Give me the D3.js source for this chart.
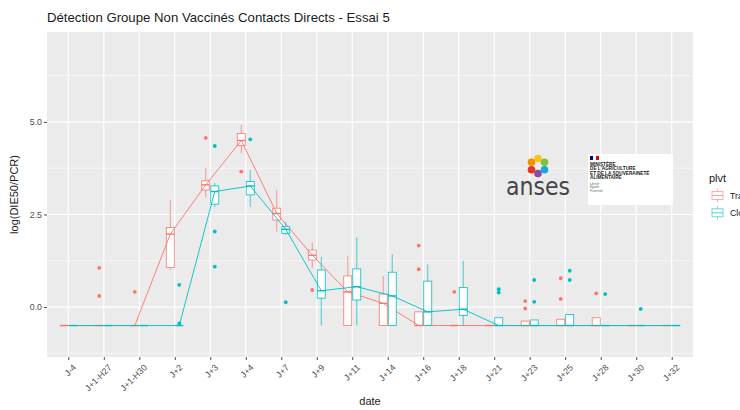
<!DOCTYPE html>
<html lang="fr">
  <head>
    <meta charset="utf-8">
    <title>Détection Groupe Non Vaccinés Contacts Directs - Essai 5</title>
    <script src="https://cdn.jsdelivr.net/npm/d3@7"></script>
  </head>
  <style>
    body, html {
      margin: 0;
      padding: 0;
      background: #fff;
    }
    svg {
      font-family: "Liberation Sans", Arial, sans-serif;
      display: block;
    }
  </style>
  <body>
    <svg width="740" height="410"></svg>
  </body>
  <script>

    const dates = ["J-4", "J+1-H27", "J+1-H30", "J+2", "J+3", "J+4", "J+7", "J+9", "J+11",
      "J+14", "J+16", "J+18", "J+21", "J+23", "J+25", "J+28", "J+30", "J+32"]

    // Trachéal : moustache basse, Q1, médiane, Q3, moustache haute
    const tLow  = [-0.5, -0.5, -0.5, 1.0, 2.95, 4.16, 2.04, 1.05, -0.5, -0.5, -0.5, -0.5, -0.5, -0.5, -0.5, -0.5, -0.5, -0.5]
    const tQ1   = [-0.5, -0.5, -0.5, 1.07, 3.16, 4.36, 2.35, 1.27, -0.5, -0.5, -0.5, -0.5, -0.5, -0.5, -0.5, -0.5, -0.5, -0.5]
    const tMed  = [-0.5, -0.5, -0.5, 1.97, 3.3, 4.5, 2.53, 1.4, 0.41, 0.1, -0.5, -0.5, -0.5, -0.5, -0.5, -0.5, -0.5, -0.5]
    const tQ3   = [-0.5, -0.5, -0.5, 2.15, 3.41, 4.69, 2.67, 1.54, 0.84, 0.35, -0.13, -0.5, -0.5, -0.38, -0.33, -0.29, -0.5, -0.5]
    const tHigh = [-0.5, -0.5, -0.5, 2.89, 3.76, 4.92, 3.16, 1.74, 1.38, 0.84, -0.13, -0.5, -0.5, -0.38, -0.33, -0.29, -0.5, -0.5]
    const tOut  = [["J+1-H27", 1.06], ["J+1-H27", 0.3], ["J+1-H30", 0.41], ["J+3", 4.57], ["J+4", 3.66],
      ["J+9", 0.46], ["J+16", 1.66], ["J+16", 1.02], ["J+18", 0.41], ["J+23", 0.16], ["J+23", -0.04],
      ["J+25", 0.78], ["J+25", 0.22], ["J+28", 0.37]]

    // Cloacal
    const cLow  = [-0.5, -0.5, -0.5, -0.5, 2.7, 2.71, 1.95, -0.5, -0.5, -0.5, -0.5, -0.5, -0.5, -0.5, -0.5, -0.5, -0.5, -0.5]
    const cQ1   = [-0.5, -0.5, -0.5, -0.5, 2.78, 3.03, 1.99, 0.24, 0.19, -0.5, -0.5, -0.23, -0.5, -0.5, -0.5, -0.5, -0.5, -0.5]
    const cMed  = [-0.5, -0.5, -0.5, -0.5, 3.12, 3.27, 2.1, 0.44, 0.55, 0.3, -0.13, -0.06, -0.5, -0.5, -0.5, -0.5, -0.5, -0.5]
    const cQ3   = [-0.5, -0.5, -0.5, -0.5, 3.27, 3.39, 2.17, 1.0, 1.03, 0.94, 0.7, 0.53, -0.29, -0.35, -0.2, -0.5, -0.5, -0.5]
    const cHigh = [-0.5, -0.5, -0.5, -0.5, 3.35, 3.7, 2.3, 1.36, 1.88, 1.43, 1.15, 1.25, -0.29, -0.35, -0.2, -0.5, -0.5, -0.5]
    const cOut  = [["J+2", 0.6], ["J+2", -0.44], ["J+3", 4.35], ["J+3", 2.04], ["J+3", 1.09], ["J+4", 4.53],
      ["J+7", 0.13], ["J+21", 0.48], ["J+21", 0.39], ["J+23", 0.73], ["J+23", 0.14], ["J+25", 0.98],
      ["J+25", 0.73], ["J+28", 0.35], ["J+30", -0.05]]

    const groups = ["Trachéal", "Cloacal"]
    const yTicks = [0, 2.5, 5]
    const yMinor = [-1.25, 1.25, 3.75, 6.25]

    const colors = { "Trachéal": "#F8766D", "Cloacal": "#00BFC4" }

    const svg = d3.select('svg')
    const pLeft = 47, pRight = 693, pTop = 32, pBottom = 357
    const dodge = 4.5
    const boxW = 8

    const x = d3.scalePoint().domain(dates).range([pLeft, pRight]).padding(0.6)
    const y = d3.scaleLinear().domain([-1.35, 7.43]).range([pBottom, pTop])

    // titre
    svg.append('text')
      .attr('x', pLeft)
      .attr('y', 22)
      .attr('font-size', 13.2)
      .attr('fill', '#1a1a1a')
      .text('Détection Groupe Non Vaccinés Contacts Directs - Essai 5')

    // panneau + grille
    svg.append('rect')
      .attr('x', pLeft).attr('y', pTop)
      .attr('width', pRight - pLeft).attr('height', pBottom - pTop)
      .attr('fill', '#EBEBEB')

    svg.append('g').selectAll('line')
      .data(yMinor.filter(d => y(d) > pTop && y(d) < pBottom))
      .join('line')
      .attr('x1', pLeft).attr('x2', pRight)
      .attr('y1', d => y(d)).attr('y2', d => y(d))
      .attr('stroke', '#fff').attr('stroke-width', 0.6)

    svg.append('g').selectAll('line')
      .data(yTicks)
      .join('line')
      .attr('x1', pLeft).attr('x2', pRight)
      .attr('y1', d => y(d)).attr('y2', d => y(d))
      .attr('stroke', '#fff').attr('stroke-width', 1.2)

    svg.append('g').selectAll('line')
      .data(dates)
      .join('line')
      .attr('x1', d => x(d)).attr('x2', d => x(d))
      .attr('y1', pTop).attr('y2', pBottom)
      .attr('stroke', '#fff').attr('stroke-width', 1.2)

    // axes
    const yAxis = svg.append('g')
      .attr('transform', 'translate(' + pLeft + ',0)')
      .call(d3.axisLeft(y).tickValues(yTicks).tickFormat(d3.format('.1f')).tickSize(3).tickPadding(2))
    yAxis.select('.domain').remove()
    yAxis.selectAll('line').attr('stroke', '#4d4d4d')
    yAxis.selectAll('text').attr('fill', '#4d4d4d').attr('font-size', 8.8).attr('font-family', 'Liberation Sans, Arial, sans-serif')

    const xAxis = svg.append('g')
      .attr('transform', 'translate(0,' + pBottom + ')')
      .call(d3.axisBottom(x).tickSize(3).tickPadding(2))
    xAxis.select('.domain').remove()
    xAxis.selectAll('line').attr('stroke', '#4d4d4d')
    xAxis.selectAll('text')
      .attr('fill', '#4d4d4d')
      .attr('font-size', 8.8)
      .attr('font-family', 'Liberation Sans, Arial, sans-serif')
      .attr('text-anchor', 'end')
      .attr('dy', 0)
      .attr('transform', 'translate(8,11) rotate(-45)')
      .attr('y', 0)

    svg.append('text')
      .attr('x', (pLeft + pRight) / 2)
      .attr('y', 405)
      .attr('text-anchor', 'middle')
      .attr('font-size', 11)
      .attr('fill', '#1a1a1a')
      .text('date')

    svg.append('text')
      .attr('transform', 'translate(18,' + ((pTop + pBottom) / 2) + ') rotate(-90)')
      .attr('text-anchor', 'middle')
      .attr('font-size', 11)
      .attr('fill', '#1a1a1a')
      .text('log(DIE50/PCR)')

    // boxplots
    const series = [
      { name: "Trachéal", off: -dodge, low: tLow, q1: tQ1, med: tMed, q3: tQ3, high: tHigh, out: tOut },
      { name: "Cloacal", off: dodge, low: cLow, q1: cQ1, med: cMed, q3: cQ3, high: cHigh, out: cOut }
    ]

    series.forEach(function(s) {
      const col = colors[s.name]
      const g = svg.append('g')
      const rows = dates.map((d, i) => ({ d: d, low: s.low[i], q1: s.q1[i], med: s.med[i], q3: s.q3[i], high: s.high[i] }))

      g.selectAll('.wh').data(rows).join('line').attr('class', 'wh')
        .attr('x1', r => x(r.d) + s.off).attr('x2', r => x(r.d) + s.off)
        .attr('y1', r => y(r.q3)).attr('y2', r => y(r.high))
        .attr('stroke', col).attr('stroke-width', 0.7)
      g.selectAll('.wl').data(rows).join('line').attr('class', 'wl')
        .attr('x1', r => x(r.d) + s.off).attr('x2', r => x(r.d) + s.off)
        .attr('y1', r => y(r.q1)).attr('y2', r => y(r.low))
        .attr('stroke', col).attr('stroke-width', 0.7)

      g.selectAll('rect').data(rows).join('rect')
        .attr('x', r => x(r.d) + s.off - boxW / 2)
        .attr('width', boxW)
        .attr('y', r => y(r.q3))
        .attr('height', r => Math.max(0, y(r.q1) - y(r.q3)))
        .attr('fill', '#fff')
        .attr('stroke', col).attr('stroke-width', 0.8)

      g.selectAll('.med').data(rows).join('line').attr('class', 'med')
        .attr('x1', r => x(r.d) + s.off - boxW / 2).attr('x2', r => x(r.d) + s.off + boxW / 2)
        .attr('y1', r => y(r.med)).attr('y2', r => y(r.med))
        .attr('stroke', col).attr('stroke-width', 1.4)

      g.selectAll('circle').data(s.out).join('circle')
        .attr('cx', o => x(o[0]) + s.off)
        .attr('cy', o => y(o[1]))
        .attr('r', 1.9)
        .attr('fill', col)

      // ligne des médianes
      svg.append('path')
        .datum(rows)
        .attr('d', d3.line().x(r => x(r.d) + s.off).y(r => y(r.med)))
        .attr('fill', 'none')
        .attr('stroke', col)
        .attr('stroke-width', 0.9)
    })

    // logos (collés par-dessus le graphique)
    const logo = svg.append('g')
    const petals = ["#F5C518", "#7CC242", "#1BA5D8", "#8E4B9E", "#E6332A", "#F29100"]
    petals.forEach(function(c, i) {
      const a = -Math.PI / 2 + i * Math.PI * 2 / petals.length
      logo.append('circle')
        .attr('cx', 538 + Math.cos(a) * 7.5)
        .attr('cy', 166 + Math.sin(a) * 7.5)
        .attr('r', 3.8)
        .attr('fill', c)
    })
    logo.append('text')
      .attr('x', 506).attr('y', 195)
      .attr('font-size', 25)
      .attr('font-family', 'DejaVu Sans, sans-serif')
      .attr('textLength', 64)
      .attr('lengthAdjust', 'spacingAndGlyphs')
      .attr('fill', '#454545')
      .text('anses')

    logo.append('rect')
      .attr('x', 588).attr('y', 154).attr('width', 85).attr('height', 51)
      .attr('fill', '#fff')
    logo.append('rect').attr('x', 590).attr('y', 156).attr('width', 3).attr('height', 4).attr('fill', '#000091')
    logo.append('rect').attr('x', 596).attr('y', 156).attr('width', 3).attr('height', 4).attr('fill', '#E1000F')
    const minLines = ["MINISTÈRE", "DE L'AGRICULTURE", "ET DE LA SOUVERAINETÉ", "ALIMENTAIRE"]
    minLines.forEach(function(t, i) {
      logo.append('text')
        .attr('x', 590).attr('y', 166 + i * 4.4)
        .attr('font-size', 4.7).attr('font-weight', 'bold')
        .attr('fill', '#222')
        .text(t)
    })
    const devise = ["Liberté", "Égalité", "Fraternité"]
    devise.forEach(function(t, i) {
      logo.append('text')
        .attr('x', 590).attr('y', 185 + i * 3.4)
        .attr('font-size', 3).attr('font-style', 'italic')
        .attr('fill', '#666')
        .text(t)
    })

    // légende
    const legend = svg.append('g')
    legend.append('text')
      .attr('x', 709).attr('y', 182)
      .attr('font-size', 11).attr('fill', '#1a1a1a')
      .text('plvt')

    groups.forEach(function(gname, i) {
      const col = colors[gname]
      const ky = 187 + i * 17.3
      const kx = 709
      const k = legend.append('g').attr('opacity', 0.7)
      k.append('line').attr('x1', kx + 8.5).attr('x2', kx + 8.5).attr('y1', ky + 1.5).attr('y2', ky + 15.5)
        .attr('stroke', col).attr('stroke-width', 0.7)
      k.append('rect').attr('x', kx + 3).attr('y', ky + 4.5).attr('width', 11).attr('height', 8)
        .attr('fill', '#fff').attr('stroke', col).attr('stroke-width', 0.8)
      k.append('line').attr('x1', kx + 3).attr('x2', kx + 14).attr('y1', ky + 8.5).attr('y2', ky + 8.5)
        .attr('stroke', col).attr('stroke-width', 1)
      legend.append('text')
        .attr('x', kx + 21).attr('y', ky + 12)
        .attr('font-size', 8.8).attr('fill', '#1a1a1a')
        .text(gname)
    })
  </script>
</html>
